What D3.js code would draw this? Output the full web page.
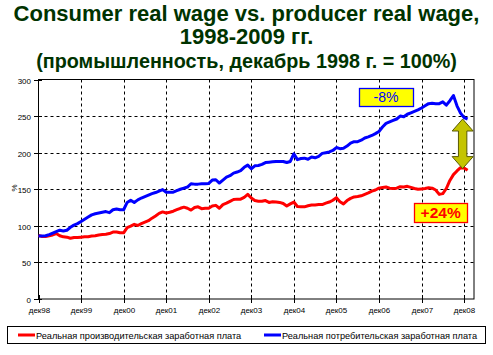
<!DOCTYPE html>
<html><head><meta charset="utf-8">
<script src="https://cdn.jsdelivr.net/npm/d3@7"></script>
<style>body{margin:0;background:#fff}svg{display:block}</style>
</head><body>
<svg id="c" width="493" height="355"></svg>
<script>
// Monthly index: 0 = дек98 ... 121 = янв09
const consumerWage = [
 86,86,86.5,88,90,92,94,93,94,98,101,103,
 106,109,112,115,116.5,117.5,118.5,119.5,118,122,123,122,
 122,132,135,132,135.5,138,140,142,144,145.5,147.5,149.5,
 146,146,146,148,150,151.5,153,157.5,157,157,157.5,157.5,
 158,162.5,163,158.5,162.5,166.5,168.5,172,173.5,175.5,180,183,
 178,182,182.5,184,186.5,187,187.5,188,188,188,186.5,188,
 198.5,190.5,192,192.5,191,194,193,195,199,200,201,203,
 207,205.5,206,209,213,215,215,217,220,221.5,223.5,226,
 229,235,240,242,244,246,250,249,252.5,254.5,256.5,258.5,
 261,264,267,267.5,267,267,269.5,265,271,278,264,254,
 248,246
];
const producerWage = [
 87,85.5,85.5,86.5,87.5,89.5,86.5,85,84.5,83,84,84,
 84.5,85,85,86,86.5,87.5,88,88.5,89.5,91.5,91.5,90.5,
 90.5,97.5,99.5,102,100.5,103,105,107,110.5,113.5,117,119,
 117.5,118.5,120,122,124,125.5,124,121.5,125,126,123.5,124,
 124,127,128,124,129,131,133.5,136,136.5,136.5,139,143,
 138,134.5,133.5,133.5,134.5,132,133,132.5,132,130.5,127,130,
 132.5,126.5,126,126,127.5,128.5,128.5,129,129,131,132.5,135,
 138.5,133,130,134.5,137.5,139.5,140,141,143,145,147.5,149,
 151.5,152.5,153,151.5,151,151.5,153.5,153,154,152.5,151,150,
 150.5,151,152,151.5,149,143,144,151,162,170,175,179.5,
 179,176
];
const xTickLabels = ["дек98","дек99","дек00","дек01","дек02","дек03","дек04","дек05","дек06","дек07","дек08"];
const yTicks = [0,50,100,150,200,250,300];
const seriesNames = ["Реальная производительская заработная плата","Реальная потребительская заработная плата"];
const titleLines = ["Consumer real wage vs. producer real wage,","1998-2009 гг.","(промышленность, декабрь 1998 г. = 100%)"];
const gapLabels = ["-8%","+24%"];

const svg = d3.select("#c");
const x = d3.scaleLinear().domain([0,122.8]).range([38.5,474]);
const y = d3.scaleLinear().domain([0,300]).range([299,79.5]);
const font = "Arial, 'Liberation Sans', sans-serif";

// title
const titleY = [21,44,68];
const titleSize = [22,22,19.8];
titleLines.forEach((t,i)=>{
  svg.append("text").attr("x",246.5).attr("y",titleY[i]).attr("text-anchor","middle")
    .attr("font-family",font).attr("font-weight","bold").attr("font-size",titleSize[i])
    .attr("fill","#003300").text(t);
});

// grid
const g = svg.append("g");
yTicks.filter(v=>v>0 && v<300).forEach(v=>{
  g.append("line").attr("x1",x.range()[0]).attr("x2",x.range()[1])
   .attr("y1",Math.round(y(v))+0.5).attr("y2",Math.round(y(v))+0.5)
   .attr("stroke","#000").attr("stroke-dasharray","3,3");
});
xTickLabels.forEach((l,i)=>{
  if(i===0) return;
  const xx = Math.round(x(i*12))+0.5;
  g.append("line").attr("x1",xx).attr("x2",xx).attr("y1",y(300)).attr("y2",y(0))
   .attr("stroke","#000").attr("stroke-dasharray","3,3");
});
// plot border
g.append("rect").attr("x",38.5).attr("y",79.5).attr("width",474-38.5).attr("height",299-79.5)
 .attr("fill","none").attr("stroke","#000");

// y ticks
yTicks.forEach(v=>{
  const yy = Math.round(y(v))+0.5;
  g.append("line").attr("x1",34).attr("x2",42).attr("y1",yy).attr("y2",yy).attr("stroke","#000");
  g.append("text").attr("x",31).attr("y",yy+3).attr("text-anchor","end")
   .attr("font-family",font).attr("font-size",8).text(v);
});
svg.append("text").attr("transform","translate(17,188) rotate(-90)").attr("text-anchor","middle")
 .attr("font-family",font).attr("font-size",8).text("%");
// x ticks
xTickLabels.forEach((l,i)=>{
  const xx = Math.round(x(i*12))+0.5;
  g.append("line").attr("x1",xx).attr("x2",xx).attr("y1",295).attr("y2",303).attr("stroke","#000");
  g.append("text").attr("x",xx).attr("y",313).attr("text-anchor","middle")
   .attr("font-family",font).attr("font-size",8).text(l);
});

// lines
const line = d3.line().x((d,i)=>x(i)).y(d=>y(d));
svg.append("path").datum(producerWage).attr("d",line).attr("fill","none")
  .attr("stroke","#ff0000").attr("stroke-width",3).attr("stroke-linejoin","round");
svg.append("path").datum(consumerWage).attr("d",line).attr("fill","none")
  .attr("stroke","#0000ff").attr("stroke-width",3).attr("stroke-linejoin","round");

// double arrow
const ax = x(119.6), aTop = y(consumerWage[consumerWage.length-1]), aBot = y(178.2);
const hw = 10.5, sw = 4.2, hh = 12;
const arrow = [[ax,aTop],[ax+hw,aTop+hh],[ax+sw,aTop+hh],[ax+sw,aBot-hh],[ax+hw,aBot-hh],[ax,aBot],
  [ax-hw,aBot-hh],[ax-sw,aBot-hh],[ax-sw,aTop+hh],[ax-hw,aTop+hh]];
svg.append("path").attr("d","M"+arrow.map(p=>p.join(",")).join("L")+"Z")
  .attr("fill","#c4c400").attr("stroke","#5a5a00").attr("stroke-width",1);

// gap labels
function box(cx, cy, w, h, stroke, txt, color, bold, size){
  svg.append("rect").attr("x",Math.round(cx-w/2)+0.5).attr("y",Math.round(cy-h/2)+0.5)
    .attr("width",w).attr("height",h).attr("fill","#ffff00").attr("stroke",stroke).attr("stroke-width",1.3);
  svg.append("text").attr("x",cx).attr("y",cy+size*0.36).attr("text-anchor","middle")
    .attr("font-family",font).attr("font-weight",bold?"bold":"normal").attr("font-size",size)
    .attr("fill",color).text(txt);
}
box(x(98), y(276), 54, 18, "#0000ff", gapLabels[0], "#0000ff", false, 14);
box(x(113.4), y(118), 53, 19, "#ff0000", gapLabels[1], "#ff0000", true, 15.5);

// legend
svg.append("rect").attr("x",7.5).attr("y",326.5).attr("width",478).attr("height",17)
  .attr("fill","#fff").attr("stroke","#000");
const legX = [18, 264];
const colors = ["#ff0000","#0000ff"];
seriesNames.forEach((n,i)=>{
  svg.append("line").attr("x1",legX[i]).attr("x2",legX[i]+17).attr("y1",335).attr("y2",335)
    .attr("stroke",colors[i]).attr("stroke-width",3);
  svg.append("text").attr("x",legX[i]+18).attr("y",338.5).attr("font-family",font)
    .attr("font-size",9.2).text(n);
});
</script>
</body></html>
